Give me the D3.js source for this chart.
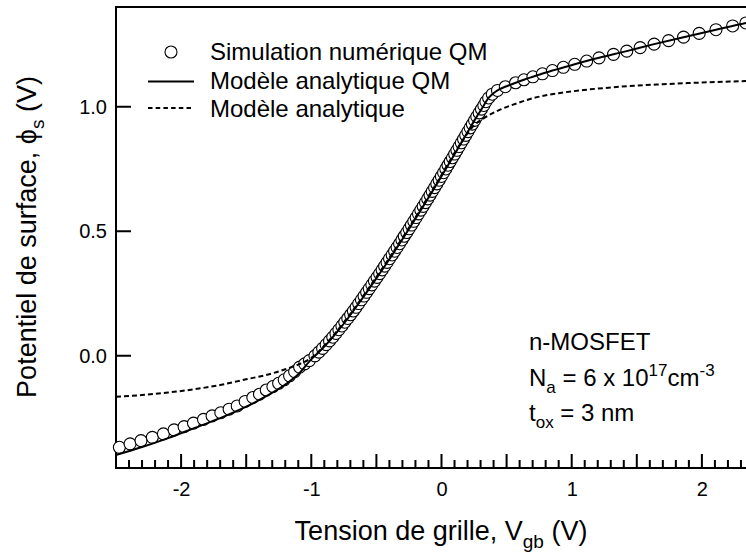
<!DOCTYPE html>
<html>
<head>
<meta charset="utf-8">
<script src="https://cdn.jsdelivr.net/npm/d3@7"></script>
<style>
  body { margin: 0; background: #fff; }
  text { font-family: "Liberation Sans", Arial, Helvetica, sans-serif; fill: #000; }
</style>
</head>
<body>
<svg id="chart" width="746" height="553"></svg>
<script>
// Numerical QM simulation: gate voltage (V) and surface potential (V)
const simV = [
  -2.474, -2.392, -2.308, -2.221, -2.136, -2.054, -1.977, -1.905, -1.828, -1.762,
  -1.695, -1.631, -1.569, -1.508, -1.449, -1.398, -1.346, -1.295, -1.251, -1.208,
  -1.167, -1.128, -1.090, -1.051, -1.015,
  -0.972, -0.942, -0.913, -0.886, -0.860, -0.835, -0.811, -0.788, -0.765, -0.743,
  -0.720, -0.698, -0.677, -0.656, -0.636, -0.615, -0.595, -0.575, -0.555, -0.535,
  -0.515, -0.495, -0.475, -0.456, -0.437, -0.418, -0.399, -0.379, -0.360, -0.341,
  -0.322, -0.304, -0.286, -0.267, -0.249, -0.231, -0.213, -0.195, -0.177, -0.159,
  -0.141, -0.123, -0.106, -0.088, -0.071, -0.053, -0.036, -0.018, -0.001, 0.016,
  0.033, 0.050, 0.067, 0.084, 0.101, 0.118, 0.135, 0.152, 0.169, 0.186,
  0.203, 0.220, 0.237, 0.254, 0.271, 0.289, 0.307, 0.325, 0.341, 0.362,
  0.390, 0.430, 0.490,
  0.569, 0.633, 0.702, 0.775, 0.852, 0.936, 1.023, 1.115, 1.210, 1.321,
  1.423, 1.526, 1.633, 1.744, 1.859, 1.979, 2.108, 2.236, 2.338, 2.460
];
const simPhi = [
  -0.367, -0.353, -0.340, -0.327, -0.313, -0.297, -0.284, -0.270, -0.255, -0.241,
  -0.228, -0.214, -0.201, -0.183, -0.167, -0.154, -0.137, -0.123, -0.110, -0.096,
  -0.080, -0.063, -0.045, -0.032, -0.019,
  0.000, 0.015, 0.030, 0.045, 0.060, 0.075, 0.090, 0.105, 0.120, 0.135,
  0.150, 0.165, 0.180, 0.195, 0.210, 0.225, 0.240, 0.255, 0.270, 0.285,
  0.300, 0.315, 0.330, 0.345, 0.360, 0.375, 0.390, 0.405, 0.420, 0.435,
  0.450, 0.465, 0.480, 0.495, 0.510, 0.525, 0.540, 0.555, 0.570, 0.585,
  0.600, 0.615, 0.630, 0.645, 0.660, 0.675, 0.690, 0.705, 0.720, 0.735,
  0.750, 0.765, 0.780, 0.795, 0.810, 0.825, 0.840, 0.855, 0.870, 0.885,
  0.900, 0.915, 0.930, 0.945, 0.960, 0.975, 0.990, 1.005, 1.020, 1.035,
  1.050, 1.065, 1.080,
  1.096, 1.108, 1.120, 1.132, 1.145, 1.158, 1.170, 1.183, 1.196, 1.210,
  1.223, 1.237, 1.251, 1.265, 1.279, 1.294, 1.309, 1.324, 1.336, 1.350
];

// Analytical QM model
const qmV = [
  -2.5, -2.3, -2.1, -1.9, -1.7, -1.5, -1.35, -1.2, -1.1, -1.0,
  -0.972, -0.913, -0.86, -0.795, -0.72, -0.65, -0.515, -0.385, -0.261, -0.141,
  -0.024, 0.090, 0.203, 0.259, 0.319, 0.36, 0.39, 0.42, 0.45, 0.48,
  0.51, 0.57, 0.633, 0.702, 0.852, 1.023, 1.210, 1.423, 1.633, 1.859,
  2.108, 2.338, 2.5
];
const qmPhi = [
  -0.398, -0.366, -0.330, -0.290, -0.250, -0.204, -0.163, -0.115, -0.074, -0.014,
  0.000, 0.030, 0.060, 0.100, 0.150, 0.200, 0.300, 0.400, 0.500, 0.600,
  0.700, 0.800, 0.900, 0.950, 1.000, 1.034, 1.050, 1.062, 1.071, 1.078,
  1.084, 1.096, 1.108, 1.120, 1.145, 1.170, 1.196, 1.223, 1.251, 1.279,
  1.309, 1.336, 1.353
];

// Classical analytical model
const clV = [
  -2.5, -2.3, -2.1, -1.9, -1.7, -1.5, -1.35, -1.2, -1.1, -1.0,
  -0.92, -0.85, -0.72, -0.515, -0.261, -0.024, 0.15, 0.25, 0.32, 0.39,
  0.45, 0.55, 0.71, 0.9, 1.095, 1.3, 1.479, 1.7, 1.864, 2.1,
  2.34, 2.5
];
const clPhi = [
  -0.164, -0.157, -0.147, -0.134, -0.117, -0.094, -0.077, -0.054, -0.035, -0.008,
  0.030, 0.070, 0.155, 0.305, 0.505, 0.705, 0.855, 0.925, 0.952, 0.973,
  0.988, 1.008, 1.035, 1.054, 1.067, 1.077, 1.084, 1.090, 1.094, 1.099,
  1.103, 1.106
];

const xLabelTicks = [-2, -1, 0, 1, 2];
const yLabelTicks = [0, 0.5, 1.0];
const legendLabels = ["Simulation numérique QM", "Modèle analytique QM", "Modèle analytique"];

const svg = d3.select("#chart");
const x = d3.scaleLinear().domain([-2.5, 2.5]).range([116, 767]);
const y = d3.scaleLinear().domain([-0.45, 1.4]).range([468, 7]);

const FONT = "Liberation Sans, Arial, Helvetica, sans-serif";

// writes a text with sub/superscript runs
function rich(sel, parts, base, small) {
  let shift = 0;
  parts.forEach(([str, kind]) => {
    const target = kind === "sub" ? 0.3 * base : kind === "sup" ? -0.42 * base : 0;
    sel.append("tspan")
      .attr("dy", target - shift)
      .attr("font-size", kind === "n" ? base : small)
      .text(str);
    shift = target;
  });
}

// x axis: major ticks every 0.5 (labels on integers), minor every 0.1
const majorX = d3.range(-5, 6).map(i => i / 2);
const minorX = d3.range(-25, 26).filter(i => i % 5 !== 0).map(i => i / 10);
const yBase = y(-0.45);
const xBase = x(-2.5);

// frame and all tick marks as one path
const p = d3.path();
p.moveTo(x(2.5), y(1.4)); p.lineTo(xBase, y(1.4)); p.lineTo(xBase, yBase); p.lineTo(x(2.5), yBase);
minorX.forEach(v => { p.moveTo(x(v), yBase); p.lineTo(x(v), yBase - 8); });
majorX.forEach(v => { p.moveTo(x(v), yBase); p.lineTo(x(v), yBase - 14); });
yLabelTicks.forEach(v => { p.moveTo(xBase, y(v)); p.lineTo(xBase + 15, y(v)); });
svg.append("path").attr("d", p.toString())
  .attr("fill", "none").attr("stroke", "#000").attr("stroke-width", 2);

// tick labels from the axis generators
const gx = svg.append("g").attr("transform", `translate(0,${yBase})`)
  .call(d3.axisBottom(x).tickValues(xLabelTicks).tickSize(0).tickPadding(14)
    .tickFormat(d => `${d}`));
const gy = svg.append("g").attr("transform", `translate(${xBase},0)`)
  .call(d3.axisLeft(y).tickValues(yLabelTicks).tickSize(0).tickPadding(9)
    .tickFormat(d3.format(".1f")));
[gx, gy].forEach(g => {
  g.select(".domain").remove();
  g.selectAll(".tick line").remove();
  g.selectAll(".tick text").attr("font-family", FONT).attr("font-size", 20).attr("fill", "#000");
});

// simulation markers
const simData = simV.map((v, i) => ({ v, p: simPhi[i] }));
svg.append("g").selectAll("circle").data(simData).join("circle")
  .attr("cx", d => x(d.v)).attr("cy", d => y(d.p)).attr("r", 6)
  .attr("fill", "#fff").attr("stroke", "#000").attr("stroke-width", 1.1);

const line = d3.line().x(d => x(d[0])).y(d => y(d[1])).curve(d3.curveMonotoneX);

svg.append("path").datum(clV.map((v, i) => [v, clPhi[i]]))
  .attr("d", line).attr("fill", "none").attr("stroke", "#000")
  .attr("stroke-width", 2).attr("stroke-dasharray", "5,3");

svg.append("path").datum(qmV.map((v, i) => [v, qmPhi[i]]))
  .attr("d", line).attr("fill", "none").attr("stroke", "#000").attr("stroke-width", 2);

// legend
const leg = svg.append("g");
leg.append("circle").attr("cx", 171).attr("cy", 52).attr("r", 6)
  .attr("fill", "#fff").attr("stroke", "#000").attr("stroke-width", 1.1);
leg.append("line").attr("x1", 148).attr("x2", 194).attr("y1", 81.5).attr("y2", 81.5)
  .attr("stroke", "#000").attr("stroke-width", 2);
leg.append("line").attr("x1", 148).attr("x2", 194).attr("y1", 108).attr("y2", 108)
  .attr("stroke", "#000").attr("stroke-width", 2).attr("stroke-dasharray", "4.5,3.2");
legendLabels.forEach((t, i) => {
  leg.append("text").attr("x", 210).attr("y", [60, 89, 117][i])
    .attr("font-size", 24).text(t);
});

// device annotation
const ann = svg.append("g");
ann.append("text").attr("x", 529).attr("y", 350).attr("font-size", 24).text("n-MOSFET");
rich(ann.append("text").attr("x", 529).attr("y", 386),
  [["N", "n"], ["a", "sub"], [" = 6 x 10", "n"], ["17", "sup"], ["cm", "n"], ["-3", "sup"]], 24, 17);
rich(ann.append("text").attr("x", 529).attr("y", 421),
  [["t", "n"], ["ox", "sub"], [" = 3 nm", "n"]], 24, 17);

// axis titles
rich(svg.append("text").attr("x", 441).attr("y", 540).attr("text-anchor", "middle"),
  [["Tension de grille, V", "n"], ["gb", "sub"], [" (V)", "n"]], 27, 19);
rich(svg.append("text").attr("text-anchor", "middle")
    .attr("transform", "translate(36,237) rotate(-90)"),
  [["Potentiel de surface, \u03D5", "n"], ["s", "sub"], [" (V)", "n"]], 27, 19);
</script>
</body>
</html>
